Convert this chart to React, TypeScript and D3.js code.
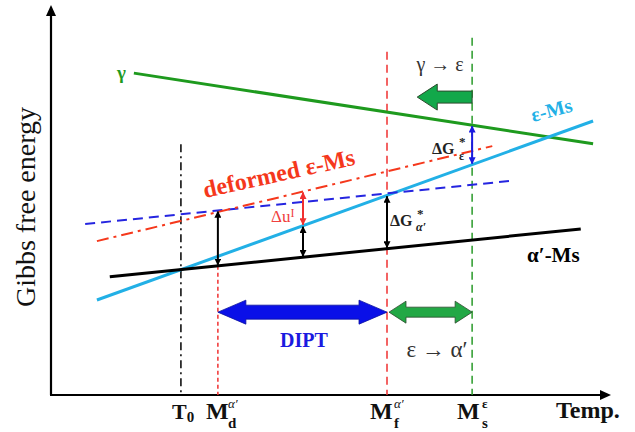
import React from "react";
import * as d3 from "d3";

// Schematic Gibbs free energy vs temperature (abstract units, 0-100 on both axes)
type Line = { id: string; x0: number; y0: number; x1: number; y1: number };

const energyLines: Line[] = [
  { id: "gamma", x0: 14.8, y0: 84.7, x1: 96.8, y1: 66.1 },
  { id: "epsMs", x0: 8.2, y0: 25.0, x1: 96.8, y1: 72.1 },
  { id: "alphaMs", x0: 10.5, y0: 31.1, x1: 94.6, y1: 43.7 },
  { id: "blueDash", x0: 6.1, y0: 45.0, x1: 81.8, y1: 56.3 },
  { id: "deformed", x0: 8.2, y0: 40.5, x1: 78.8, y1: 65.5 },
];

// characteristic temperatures
const tempNames = ["T0", "Md", "Mf", "Ms"];
const tempValues = [23.2, 29.8, 60.0, 75.2];
// top end of each vertical marker (energy units or line id)
const tempTops: (number | string)[] = [66.0, "alphaMs", 90.3, 94.0];

// double arrows between lines: [x, upper line, lower line, colour]
const gapArrows: [number, string, string, string][] = [
  [29.8, "blueDash", "alphaMs", "black"],
  [45.0, "epsMs", "alphaMs", "black"],
  [45.0, "deformed", "epsMs", "red"],
  [60.0, "epsMs", "alphaMs", "black"],
  [75.2, "gamma", "epsMs", "blue"],
];

const transformArrowY = [78.4, 21.8];
const gammaArrowFrom = [75.2, 65.4];

const W = 635;
const H = 432;
const x = d3.scaleLinear().domain([0, 100]).range([51, 611]);
const y = d3.scaleLinear().domain([0, 100]).range([395, 15]);

const lineAt = (id: string, t: number) => {
  const l = energyLines.find((d) => d.id === id)!;
  return l.y0 + ((t - l.x0) * (l.y1 - l.y0)) / (l.x1 - l.x0);
};

const lineStyle: Record<string, { stroke: string; width: number; dash?: string }> = {
  gamma: { stroke: "#1e9a1e", width: 3 },
  epsMs: { stroke: "#22b0e6", width: 3 },
  alphaMs: { stroke: "#000", width: 3 },
  blueDash: { stroke: "#2525e0", width: 2, dash: "10,6" },
  deformed: { stroke: "#f5381c", width: 2, dash: "12,5,3,5" },
};

const vStyle = [
  { stroke: "#000", width: 1.5, dash: "8,4,2,4" },
  { stroke: "#f03030", width: 1.5, dash: "4,3" },
  { stroke: "#f03030", width: 1.5, dash: "8,5" },
  { stroke: "#2a9a2a", width: 1.5, dash: "8,5" },
];

const arrowColors: Record<string, string> = { black: "#000", red: "#f03030", blue: "#1a1ae0" };

// polygon for a thick block arrow
function blockArrow(xa: number, xb: number, yc: number, head: number, body: number, hw: number, both: boolean) {
  const dir = xb > xa ? 1 : -1;
  const pts: [number, number][] = [];
  const baseB = xb - dir * head;
  if (both) {
    const baseA = xa + dir * head;
    pts.push([xa, yc], [baseA, yc - hw], [baseA, yc - body], [baseB, yc - body], [baseB, yc - hw], [xb, yc],
      [baseB, yc + hw], [baseB, yc + body], [baseA, yc + body], [baseA, yc + hw]);
  } else {
    pts.push([xa, yc - body], [baseB, yc - body], [baseB, yc - hw], [xb, yc], [baseB, yc + hw], [baseB, yc + body], [xa, yc + body]);
  }
  return pts.map((p) => p.join(",")).join(" ");
}

const sf = { fontFamily: "Liberation Serif" };

const App: React.FC = () => {
  const gen = d3.line<[number, number]>().x((d) => x(d[0])).y((d) => y(d[1]));

  return (
    <svg width={W} height={H} style={{ position: "absolute", left: 0, top: 0, background: "#fff" }}>
      <defs>
        {Object.entries(arrowColors).map(([k, c]) => (
          <marker key={k} id={"ah-" + k} viewBox="0 0 10 10" refX="9" refY="5" markerWidth="7" markerHeight="7"
            markerUnits="userSpaceOnUse" orient="auto-start-reverse">
            <path d="M0,0 L10,5 L0,10 z" fill={c} />
          </marker>
        ))}
      </defs>

      {/* axes */}
      <line x1={x(0)} y1={y(0)} x2={x(0)} y2={14} stroke="#000" strokeWidth={2.2} />
      <polygon points={`${x(0)},5 ${x(0) - 5},16 ${x(0) + 5},16`} fill="#000" />
      <line x1={x(0) - 1} y1={y(0)} x2={602} y2={y(0)} stroke="#000" strokeWidth={2.2} />
      <polygon points={`611,${y(0)} 600,${y(0) - 5} 600,${y(0) + 5}`} fill="#000" />

      {/* vertical temperature markers */}
      {tempValues.map((t, i) => {
        const top = tempTops[i];
        const yt = typeof top === "string" ? lineAt(top, t) : top;
        return (
          <line key={tempNames[i]} x1={x(t)} x2={x(t)} y1={y(yt)} y2={y(0)} stroke={vStyle[i].stroke}
            strokeWidth={vStyle[i].width} strokeDasharray={vStyle[i].dash} />
        );
      })}

      {/* energy lines */}
      {energyLines.map((l) => (
        <path key={l.id} d={gen([[l.x0, l.y0], [l.x1, l.y1]])!} fill="none" stroke={lineStyle[l.id].stroke}
          strokeWidth={lineStyle[l.id].width} strokeDasharray={lineStyle[l.id].dash} />
      ))}

      {/* gap arrows */}
      {gapArrows.map(([t, a, b, c], i) => (
        <line key={i} x1={x(t)} x2={x(t)} y1={y(lineAt(a, t)) + 1} y2={y(lineAt(b, t)) - 1}
          stroke={arrowColors[c]} strokeWidth={2} markerStart={`url(#ah-${c})`} markerEnd={`url(#ah-${c})`} />
      ))}

      {/* block arrows */}
      <polygon points={blockArrow(x(gammaArrowFrom[0]), x(gammaArrowFrom[1]), y(transformArrowY[0]), 20, 6, 13, false)}
        fill="#12a84a" stroke="#2d4a2d" strokeWidth={1} />
      <polygon points={blockArrow(x(tempValues[1]), x(tempValues[2]), y(transformArrowY[1]), 28, 7, 12, true)}
        fill="#0a10e8" stroke="#0a10a0" strokeWidth={0.8} />
      <polygon points={blockArrow(x(tempValues[2]) + 2, x(tempValues[3]), y(transformArrowY[1]), 17, 5, 11, true)}
        fill="#22a845" stroke="#2d4a2d" strokeWidth={0.8} />

      {/* labels */}
      <text style={sf} x={117} y={79} fill="#1e9a1e" fontSize={19} fontWeight="bold">γ</text>
      <text style={sf} x={440} y={71} fill="#333" fontSize={20} textAnchor="middle">γ → ε</text>
      <text style={sf} transform="translate(533,122) rotate(-15)" fill="#22b0e6" fontSize={20} fontWeight="bold">ε-Ms</text>
      <text style={sf} transform="translate(205,198) rotate(-12.5)" fill="#f5381c" fontSize={24} fontWeight="bold">deformed ε-Ms</text>
      <text style={sf} x={271} y={222} fill="#f04040" fontSize={17}>Δu<tspan dy={-5} fontSize={12}>I</tspan></text>
      <g fill="#222" fontWeight="bold">
        <text style={sf} x={432} y={154} fontSize={16}>ΔG</text>
        <text style={sf} x={459} y={146} fontSize={13}>*</text>
        <text style={sf} x={459} y={160} fontSize={12}>ε</text>
        <text style={sf} x={390} y={226} fontSize={16}>ΔG</text>
        <text style={sf} x={417} y={218} fontSize={13}>*</text>
        <text style={sf} x={416} y={231} fontSize={12} fontStyle="italic">α′</text>
      </g>
      <text style={sf} x={527} y={262} fontSize={21} fontWeight="bold">α′-Ms</text>
      <text style={sf} x={304} y={347} fill="#1a1ae0" fontSize={20} fontWeight="bold" textAnchor="middle">DIPT</text>
      <text style={sf} x={437} y={357} fill="#333" fontSize={23} textAnchor="middle">ε → α′</text>

      {/* tick labels */}
      <g fontWeight="bold" fill="#111">
        <text style={sf} x={172} y={419} fontSize={22}>T<tspan dy={3} fontSize={15}>0</tspan></text>
        <text style={sf} x={206} y={419} fontSize={24}>M</text>
        <text style={sf} x={228} y={428} fontSize={15}>d</text>
        <text style={sf} x={228} y={408} fontSize={13} fontStyle="italic" fontWeight="normal">α′</text>
        <text style={sf} x={370} y={419} fontSize={24}>M</text>
        <text style={sf} x={394} y={428} fontSize={15}>f</text>
        <text style={sf} x={394} y={408} fontSize={13} fontStyle="italic" fontWeight="normal">α′</text>
        <text style={sf} x={457} y={419} fontSize={24}>M</text>
        <text style={sf} x={482} y={428} fontSize={15}>s</text>
        <text style={sf} x={482} y={408} fontSize={13}>ε</text>
        <text style={sf} x={556} y={418} fontSize={24}>Temp.</text>
      </g>
      <text style={sf} transform="translate(35,207) rotate(-90)" fontSize={28} textAnchor="middle" fill="#111">Gibbs free energy</text>
    </svg>
  );
};

export default App;
